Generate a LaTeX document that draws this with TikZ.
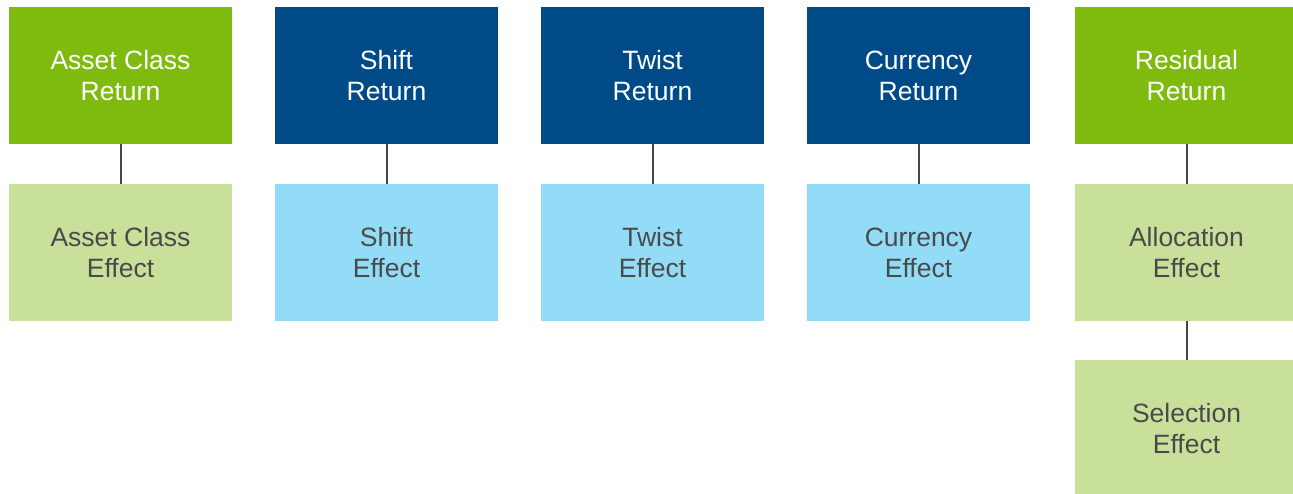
\documentclass[tikz,border=0pt]{standalone}
\usepackage{fontspec}
\setmainfont{Liberation Sans}
\definecolor{topgreen}{HTML}{7FBA0F}
\definecolor{topblue}{HTML}{004B87}
\definecolor{lowgreen}{HTML}{C8E09A}
\definecolor{lowblue}{HTML}{92DCF7}
\definecolor{lowtext}{HTML}{4A4A4A}
\definecolor{linkgray}{HTML}{444444}
\tikzset{
  box/.style={rectangle, inner sep=0pt, minimum width=223pt, minimum height=137pt,
    align=center, font=\fontsize{26.5}{31}\selectfont},
  topg/.style={box, fill=topgreen, text=white},
  topb/.style={box, fill=topblue, text=white},
  lowg/.style={box, fill=lowgreen, text=lowtext},
  lowb/.style={box, fill=lowblue, text=lowtext},
  link/.style={draw=linkgray, line width=2pt},
}
\begin{document}
\begin{tikzpicture}[x=1pt,y=-1pt]
\useasboundingbox (0,0) rectangle (1293,494);
\begin{scope}
\clip (0,0) rectangle (1293,494);
% top row: return components
\node[topg] (acr) at (120.5,75.5) {Asset Class\\Return};
\node[topb] (shr) at (386.5,75.5) {Shift\\Return};
\node[topb] (twr) at (652.5,75.5) {Twist\\Return};
\node[topb] (cur) at (918.5,75.5) {Currency\\Return};
\node[topg] (rer) at (1186.5,75.5) {Residual\\Return};
% second row: effects
\node[lowg] (ace) at (120.5,252.5) {Asset Class\\Effect};
\node[lowb] (she) at (386.5,252.5) {Shift\\Effect};
\node[lowb] (twe) at (652.5,252.5) {Twist\\Effect};
\node[lowb] (cue) at (918.5,252.5) {Currency\\Effect};
\node[lowg] (ale) at (1186.5,252.5) {Allocation\\Effect};
% third row
\node[lowg] (see) at (1186.5,428.5) {Selection\\Effect};
\end{scope}
% connectors
\draw[link] (acr.south) -- (ace.north);
\draw[link] (shr.south) -- (she.north);
\draw[link] (twr.south) -- (twe.north);
\draw[link] (cur.south) -- (cue.north);
\draw[link] (rer.south) -- (ale.north);
\draw[link] (ale.south) -- (see.north);
\end{tikzpicture}
\end{document}
